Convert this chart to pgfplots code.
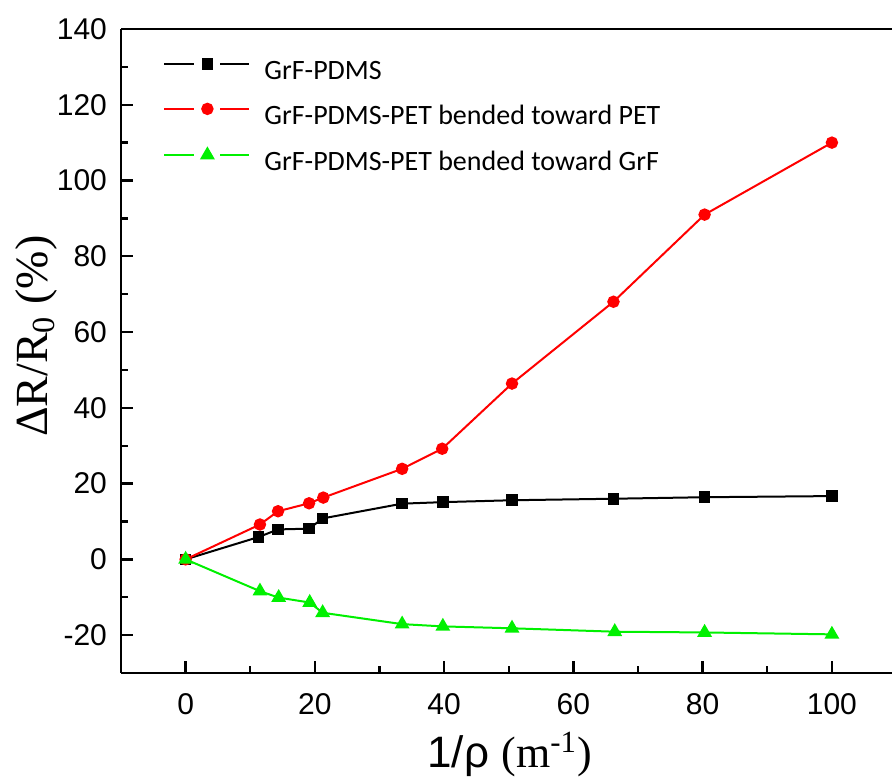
\documentclass[border=0pt]{standalone}
\usepackage{fontspec}
\setmainfont{Liberation Sans}
\newfontfamily\timesf{Liberation Serif}
\newfontfamily\calib{Carlito}
\usepackage{pgfplots}
\pgfplotsset{compat=1.18}
\definecolor{serred}{RGB}{255,0,0}
\definecolor{sergreen}{RGB}{0,240,0}

\begin{document}
\begin{tikzpicture}
\begin{axis}[
  scale only axis,
  width=385.5pt, height=322pt,
  xmin=-10, xmax=109.3,
  ymin=-30, ymax=140,
  axis x line=box, axis y line=left,
  axis line style={-, line width=1.3pt},
  xtick={0,20,...,100}, ytick={-20,0,...,140},
  minor xtick={10,30,...,90}, minor ytick={-30,-10,...,130},
  xtick pos=bottom, ytick pos=left,
  tick align=inside,
  major tick length=6pt, minor tick length=3.5pt,
  tick style={line width=1.2pt, black},
  /pgf/number format/assume math mode=true,
  tick label style={font=\fontsize{15}{17}\selectfont},
  xticklabel style={yshift=-6.5pt},
  yticklabel style={xshift=-3.5pt},
  xlabel={1/ρ {\timesf (m\textsuperscript{-1})}},
  ylabel={{\timesf ΔR/R\textsubscript{0} (\%)}},
  xlabel style={at={(rel axis cs:0.504,0)}, anchor=base, yshift=-47.5pt, font=\fontsize{22}{24}\selectfont},
  ylabel style={at={(rel axis cs:0,0.523)}, anchor=north, yshift=53pt, inner sep=0pt, font=\fontsize{23}{25}\selectfont},
  legend cell align=left,
  legend style={draw=none, fill=none, at={(rel axis cs:0,1)}, anchor=north west,
    xshift=21pt, yshift=-15pt, inner sep=0pt, row sep=9pt, column sep=0pt,
    font=\calib\fontsize{14}{16}\selectfont,
    nodes={inner sep=0pt, text height=9.5pt, text depth=3pt}},
  legend image code/.code={
    \draw[#1,mark=none] (0pt,4.5pt) -- (15pt,4.5pt);
    \draw[#1,mark=none] (28pt,4.5pt) -- (42.5pt,4.5pt);
    \draw[#1,only marks] plot coordinates {(21.5pt,4.5pt)};
    \path (49.5pt,0pt);
  },
]
\addplot[black, line width=1pt, mark=square*, mark size=2.4pt, mark options={solid, fill=black}]
  coordinates {(0,0) (11.3,5.9) (14.3,7.9) (19.1,8.1) (21.2,10.8) (33.5,14.7) (39.8,15.1) (50.5,15.6) (66.2,16.0) (80.3,16.4) (100,16.7)};
\addlegendentry{GrF-PDMS}
\addplot[serred, line width=1pt, mark=*, mark size=2.6pt, mark options={solid, fill=serred}]
  coordinates {(0,0) (11.5,9.2) (14.3,12.7) (19.1,14.8) (21.3,16.3) (33.5,23.9) (39.7,29.2) (50.5,46.4) (66.2,68.0) (80.3,91.0) (100,110.0)};
\addlegendentry{GrF-PDMS-PET bended toward PET}
\addplot[sergreen, line width=1pt, mark=triangle*, mark size=3.3pt, mark options={solid, fill=sergreen}]
  coordinates {(0,0) (11.5,-8.4) (14.4,-10.1) (19.2,-11.4) (21.2,-14.1) (33.5,-17.1) (39.8,-17.7) (50.5,-18.2) (66.4,-19.1) (80.3,-19.3) (100,-19.8)};
\addlegendentry{GrF-PDMS-PET bended toward GrF}
\end{axis}
\pgfresetboundingbox
\path (-60.5pt,-53pt) rectangle (385.5pt,336.5pt);
\end{tikzpicture}
\end{document}
